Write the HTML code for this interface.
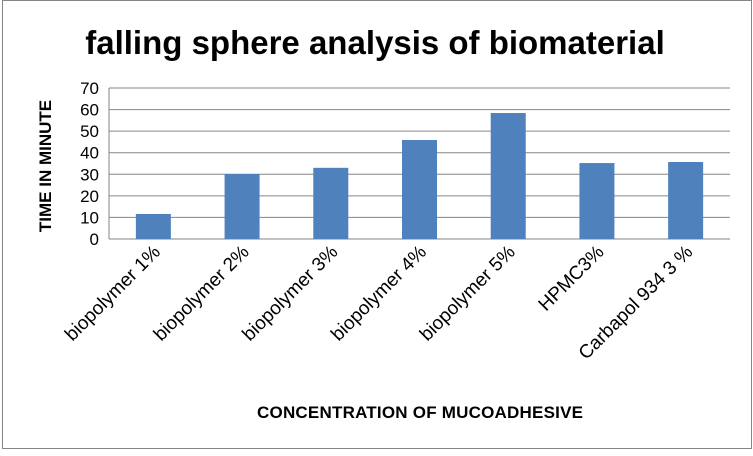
<!DOCTYPE html>
<html><head><meta charset="utf-8"><style>
body{margin:0;background:#fff;}
svg text{font-family:"Liberation Sans",sans-serif;}
</style></head><body>
<svg width="753" height="451" viewBox="0 0 753 451">
<rect x="2.5" y="0.5" width="749" height="448" fill="#fff" stroke="#868686"/>
<text x="375" y="54" text-anchor="middle" font-size="33" font-weight="bold">falling sphere analysis of biomaterial</text>
<g id="grid"></g><g id="bars"></g><g id="ylab"></g><g id="xlab"></g>
<text transform="translate(51,166) rotate(-90)" text-anchor="middle" font-size="17" font-weight="bold">TIME IN MINUTE</text>
<text x="420" y="418" text-anchor="middle" font-size="17" font-weight="bold" textLength="326">CONCENTRATION OF MUCOADHESIVE</text>
</svg>
<script>
const categories=["biopolymer 1%","biopolymer 2%","biopolymer 3%","biopolymer 4%","biopolymer 5%","HPMC3%","Carbapol 934 3 %"];
const values=[11.6,30.1,33,45.9,58.4,35.2,35.7];
const ticks=[0,10,20,30,40,50,60,70];
const NS="http://www.w3.org/2000/svg";
const L=109,R=730,T=88,B=239,yMax=70;
const y=v=>B-(B-T)*v/yMax;
const cw=(R-L)/categories.length;
const x=i=>L+cw*(i+0.5);
function mk(t,a,p){const e=document.createElementNS(NS,t);for(const k in a)e.setAttribute(k,a[k]);p.appendChild(e);return e;}
const grid=document.getElementById('grid'),bars=document.getElementById('bars'),yl=document.getElementById('ylab'),xl=document.getElementById('xlab');
ticks.forEach(t=>{
 const g=mk('line',{x1:L,x2:R,y1:y(t),y2:y(t),stroke:'#868686','stroke-width':1},grid);
 
 
 const tx=mk('text',{x:L-10,y:y(t)+6,'text-anchor':'end','font-size':17},yl);
 tx.textContent=t;
 
 
});
mk('line',{x1:L,x2:L,y1:T,y2:B,stroke:'#868686'},grid);
categories.forEach((c,i)=>{
 const r=mk('rect',{x:x(i)-17.5,y:y(values[i]),width:35,height:B-y(values[i]),fill:'#4f81bd'},bars);
 
 
 const t=mk('text',{transform:`translate(${x(i)+8},${B+14}) rotate(-45)`,'text-anchor':'end','font-size':19},xl);
 t.textContent=c;
 
 
});
</script>
</body></html>
